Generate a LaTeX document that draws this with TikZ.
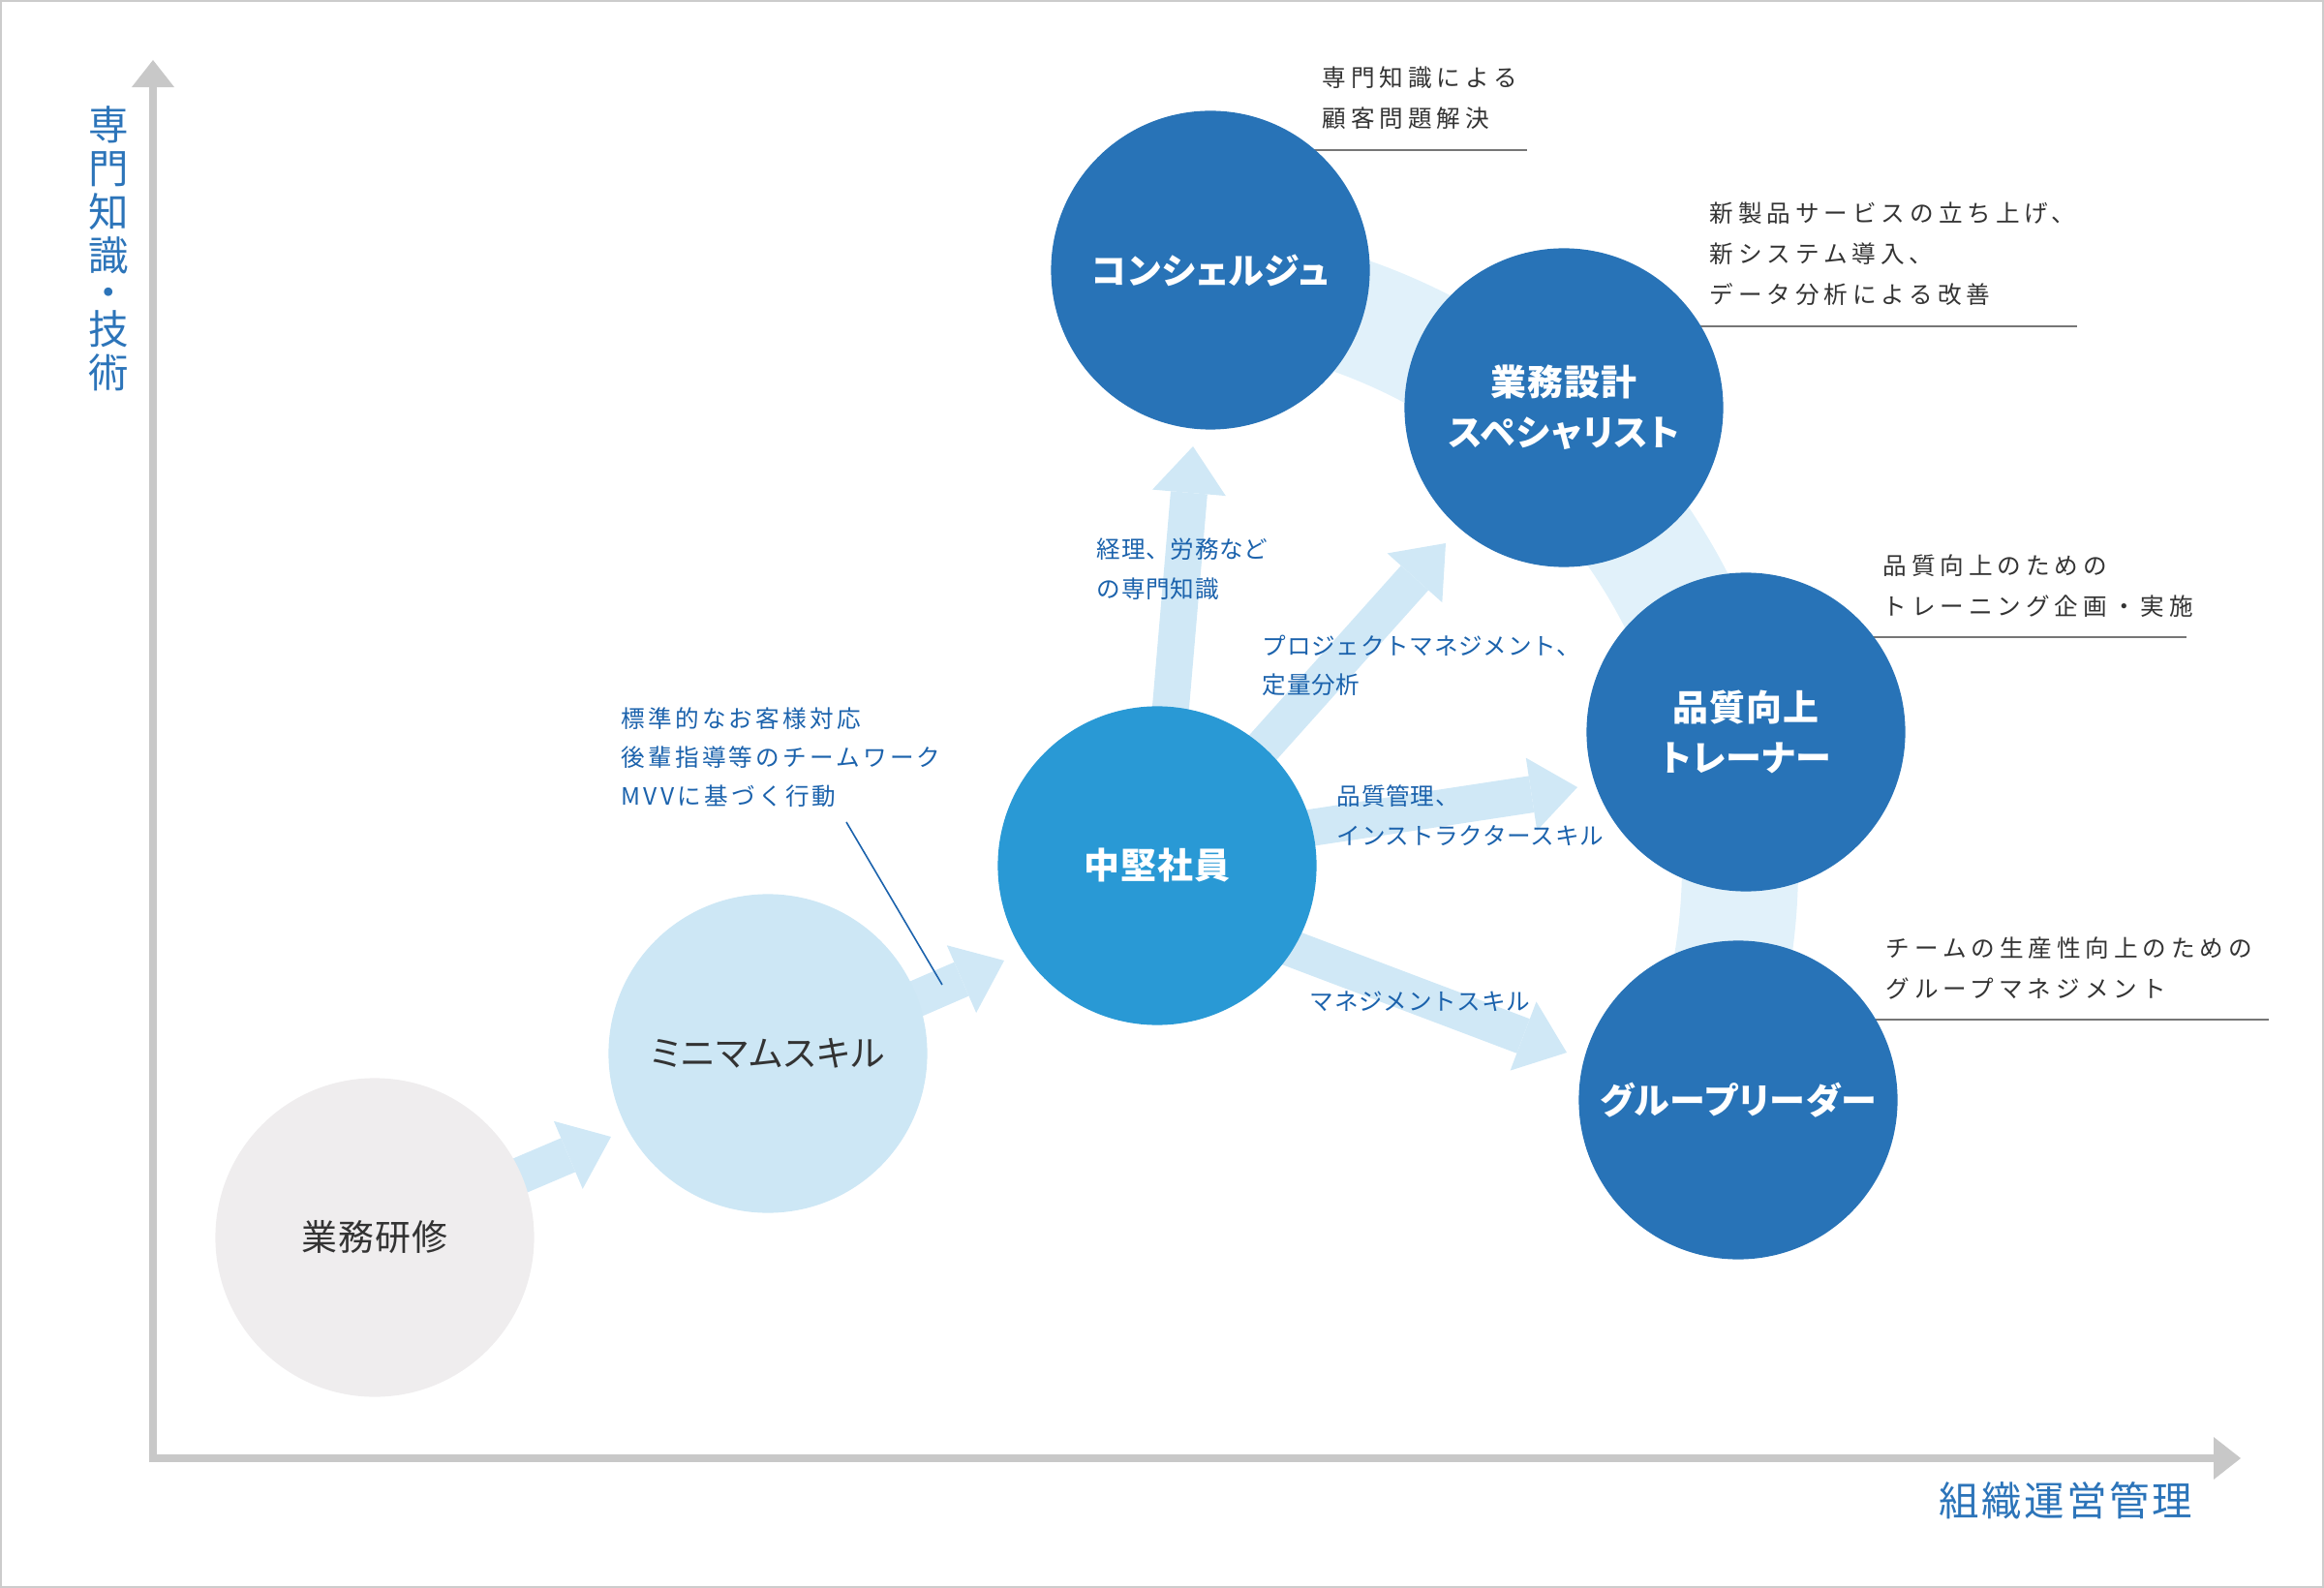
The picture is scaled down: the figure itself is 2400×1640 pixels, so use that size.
\documentclass[tikz,border=0pt]{standalone}
\usepackage{fontspec}
\setmainfont{Noto Sans CJK JP}
\newfontfamily\circfont[RawFeature=+palt,LetterSpace=3]{Noto Sans CJK JP}
\newfontfamily\annfont[LetterSpace=20]{Noto Sans CJK JP}
\newfontfamily\lblfont[LetterSpace=3]{Noto Sans CJK JP}
\newfontfamily\lblwfont[LetterSpace=13]{Noto Sans CJK JP}
\newfontfamily\axfont[LetterSpace=6]{Noto Sans CJK JP}
\usetikzlibrary{arrows.meta,backgrounds}
\definecolor{cDark}{HTML}{2873B7}
\definecolor{cMid}{HTML}{2999D5}
\definecolor{cLight}{HTML}{CDE7F5}
\definecolor{cGrey}{HTML}{EFEDEE}
\definecolor{cArrow}{HTML}{D0E8F6}
\definecolor{cRing}{HTML}{E1F1FA}
\definecolor{cBlueText}{HTML}{1B62AC}
\definecolor{cAxisText}{HTML}{2C74B9}
\definecolor{cText}{HTML}{333333}
\definecolor{cLine}{HTML}{767676}
\definecolor{cAxis}{HTML}{C8C8C8}
\definecolor{cBorder}{HTML}{CCCCCC}
\tikzset{
  bub/.style={circle, minimum size=3.29cm, inner sep=0pt, align=center},
  lightbub/.style={bub, text=cText, font=\circfont\fontsize{10.5pt}{14.8pt}\selectfont},
  darkbub/.style={bub, fill=cDark, text=white, font=\circfont\bfseries\fontsize{10.5pt}{14.8pt}\selectfont},
  blockarrow/.style={draw=cArrow, line width=0.38cm, -{Triangle[length=0.48cm,width=0.76cm,line width=0pt]}},
  axisline/.style={draw=cAxis, line width=0.08cm, -{Triangle[length=0.28cm,width=0.44cm,line width=0pt]}},
  leader/.style={draw=cLine, line width=0.02cm},
  bleader/.style={draw=cBlueText, line width=0.016cm},
  ann/.style={anchor=north west, inner sep=0pt, align=left, text=cText, font=\annfont\fontsize{7pt}{11.95pt}\selectfont},
  lbl/.style={anchor=north west, inner sep=0pt, align=left, text=cBlueText, font=\lblfont\fontsize{7pt}{11.6pt}\selectfont},
  lblw/.style={anchor=north west, inner sep=0pt, align=left, text=cBlueText, font=\lblwfont\fontsize{7pt}{11.4pt}\selectfont},
  axlbl/.style={inner sep=0pt, align=center, text=cAxisText, font=\axfont\fontsize{11.8pt}{12.8pt}\selectfont},
}
\begin{document}
\begin{tikzpicture}[x=0.01cm,y=-0.01cm]
\useasboundingbox (0,0) rectangle (2400,1640);
\draw[cBorder, line width=0.02cm] (1,1) rectangle (2399,1639);

% circles
\node[lightbub, fill=cGrey] (c1) at (387,1278) {業務研修};
\node[lightbub, fill=cLight] (c2) at (793,1088) {ミニマムスキル};
\node[bub, fill=cMid, text=white, font=\circfont\bfseries\fontsize{10.5pt}{14.8pt}\selectfont] (c3) at (1195,894) {中堅社員};
\node[darkbub] (c4) at (1250,279) {コンシェルジュ};
\node[darkbub] (c5) at (1615,421) {業務設計\\スペシャリスト};
\node[darkbub] (c6) at (1803,756) {品質向上\\トレーナー};
\node[darkbub] (c7) at (1795,1136) {グループリーダー};

% arrow tips and line ends
\coordinate (tA) at (631,1174);
\coordinate (tB) at (1037,992);
\coordinate (tC) at (1232,461);
\coordinate (tD) at (1493,561);
\coordinate (tE) at (1629,813);
\coordinate (tF) at (1618,1087);
\coordinate (u1) at (1577,155);
\coordinate (u2) at (2145,337);
\coordinate (u3) at (2258,658);
\coordinate (u4) at (2343,1053);

\begin{scope}[on background layer]
  \draw[cRing, line width=1.2cm] (c3.center) ++(-85:602) arc[start angle=-85, end angle=22, radius=602];
  \draw[blockarrow] (c1.center) -- (tA);
  \draw[blockarrow] ([yshift=-0.1cm]c2.center) -- (tB);
  \draw[blockarrow] (c3.center) -- (tC);
  \draw[blockarrow] (c3.center) -- (tD);
  \draw[blockarrow] ([yshift=0.15cm]c3.center) -- (tE);
  \draw[blockarrow] ([yshift=-0.33cm]c3.center) -- (tF);
  \draw[leader] (c4.center |- u1) -- (u1);
  \draw[leader] (c5.center |- u2) -- (u2);
  \draw[leader] (c6.center |- u3) -- (u3);
  \draw[leader] (c7.center |- u4) -- (u4);
\end{scope}

% axes
\coordinate (yorig) at (158,1510);
\coordinate (ytip) at (158,62);
\coordinate (xorig) at (154,1506);
\coordinate (xtip) at (2314,1506);
\draw[axisline] (yorig) -- (ytip);
\draw[axisline] (xorig) -- (xtip);
\node[axlbl] (ylab) at (112,257) {専\\門\\知\\識\\[-2pt]・\\[-2pt]技\\術};
\node[axlbl] (xlab) at (2133,1550) {組織運営管理};

% annotations (grey)
\node[ann] (a1) at (1365,68) {専門知識による\\顧客問題解決};
\node[ann] (a2) at (1765,208) {新製品サービスの立ち上げ、\\新システム導入、\\データ分析による改善};
\node[ann] (a3) at (1944,572) {品質向上のための\\トレーニング企画・実施};
\node[ann] (a4) at (1947,967) {チームの生産性向上のための\\グループマネジメント};

% arrow labels (blue)
\node[lbl] (l1) at (1132,555) {経理、労務など\\の専門知識};
\node[lbl] (l2) at (1303,655) {プロジェクトマネジメント、\\定量分析};
\node[lbl] (l3) at (1380,810) {品質管理、\\インストラクタースキル};
\node[lblw] (l4) at (641,730) {標準的なお客様対応\\後輩指導等のチームワーク\\MVVに基づく行動};
\node[lbl, anchor=west] (l5) at (1352,1034) {マネジメントスキル};

\coordinate (lt) at (874,849);
\coordinate (bm) at (973,1017);
\draw[bleader] (lt) -- (bm);
\end{tikzpicture}
\end{document}
